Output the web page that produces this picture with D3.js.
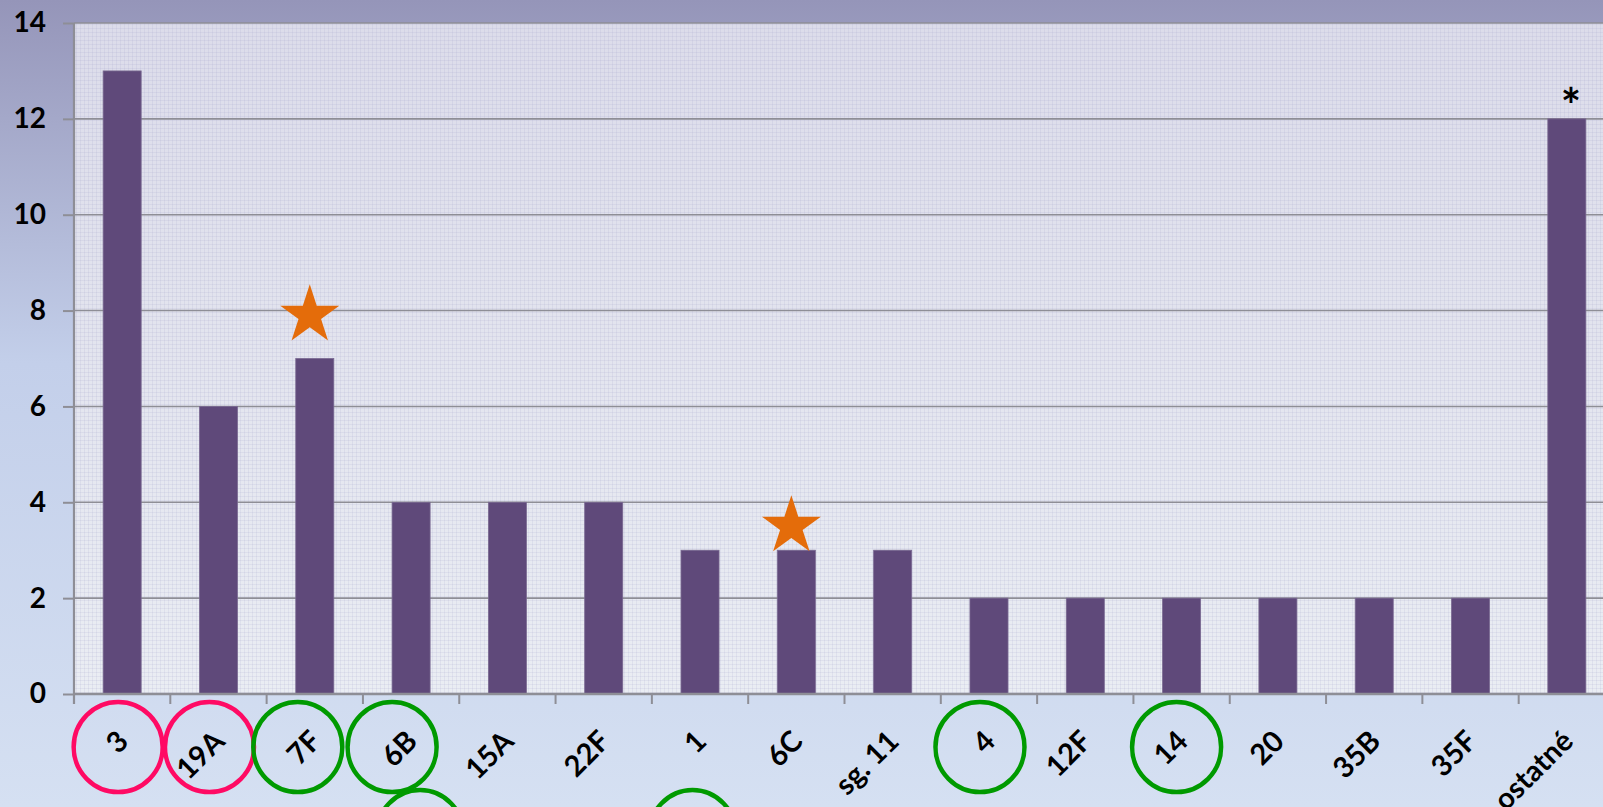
<!DOCTYPE html>
<html>
<head>
<meta charset="utf-8">
<script src="https://cdn.jsdelivr.net/npm/d3@7"></script>
<style>
  html, body { margin: 0; padding: 0; background: #C5D1EB; overflow: hidden; }
  svg { display: block; }
  text { font-family: Lato, "Open Sans", "DejaVu Sans", sans-serif; font-weight: bold; fill: #000; }
</style>
</head>
<body>
<svg id="chart" width="1603" height="807"></svg>
<script>
// ---- data ----
const categories = ["3", "19A", "7F", "6B", "15A", "22F", "1", "6C", "sg. 11", "4", "12F", "14", "20", "35B", "35F", "ostatné"];
const values = [13, 6, 7, 4, 4, 4, 3, 3, 3, 2, 2, 2, 2, 2, 2, 12];
const yTicks = [0, 2, 4, 6, 8, 10, 12, 14];
const starred = [{ cat: "7F", at: 7.9 }, { cat: "6C", at: 3.5 }];
const asterisked = [{ cat: "ostatné", at: 12.45 }];
const pinkCircled = ["3", "19A"];
const greenCircled = ["7F", "6B", "4", "14"];
const greenCircledBelow = ["6B", "1"];

// ---- layout ----
const W = 1603, H = 807;
const svg = d3.select("#chart");
const x = d3.scaleBand().domain(categories).range([74, 1615]).paddingInner(0.605).paddingOuter(0.3025);
const y = d3.scaleLinear().domain([0, 14]).range([694, 23]);
const cx = c => x(c) + x.bandwidth() / 2;

const defs = svg.append("defs");
const bg = defs.append("linearGradient").attr("id", "bg").attr("x1", 0).attr("y1", 0).attr("x2", 0).attr("y2", 1);
bg.append("stop").attr("offset", 0).attr("stop-color", "#9595B9");
bg.append("stop").attr("offset", 0.45).attr("stop-color", "#C3CFEA");
bg.append("stop").attr("offset", 1).attr("stop-color", "#D5E0F2");
const pg = defs.append("linearGradient").attr("id", "pg").attr("x1", 0).attr("y1", 0).attr("x2", 0).attr("y2", 1);
pg.append("stop").attr("offset", 0).attr("stop-color", "#DCDCEA");
pg.append("stop").attr("offset", 1).attr("stop-color", "#EAEDF3");
const pat = defs.append("pattern").attr("id", "dots").attr("width", 4).attr("height", 4).attr("patternUnits", "userSpaceOnUse");
pat.append("rect").attr("x", 0).attr("y", 0).attr("width", 4).attr("height", 1).attr("fill", "rgba(150,150,190,0.13)");
pat.append("rect").attr("x", 0).attr("y", 0).attr("width", 1).attr("height", 4).attr("fill", "rgba(150,150,190,0.13)");

svg.append("rect").attr("width", W).attr("height", H).attr("fill", "url(#bg)");

const [r0, r1] = x.range();
svg.append("rect").attr("x", r0).attr("y", y(14)).attr("width", W - r0).attr("height", y(0) - y(14)).attr("fill", "url(#pg)");
svg.append("rect").attr("x", r0).attr("y", y(14)).attr("width", W - r0).attr("height", y(0) - y(14)).attr("fill", "url(#dots)");

// gridlines
svg.append("g").selectAll("line").data(yTicks.filter(t => t > 0)).join("line")
  .attr("x1", r0).attr("x2", W).attr("y1", d => y(d)).attr("y2", d => y(d))
  .attr("stroke", "#8E8E96").attr("stroke-width", 1.6);

// bars
svg.append("g").selectAll("rect").data(categories).join("rect")
  .attr("x", d => x(d)).attr("width", x.bandwidth())
  .attr("y", (d, i) => y(values[i])).attr("height", (d, i) => y(0) - y(values[i]))
  .attr("fill", "#5F497A").attr("stroke", "#7A6A92").attr("stroke-width", 0.8);

// y axis
const yAxis = svg.append("g").attr("transform", `translate(${r0},0)`)
  .call(d3.axisLeft(y).tickValues(yTicks).tickSize(11).tickPadding(17).tickFormat(d3.format("d")));
yAxis.select(".domain").attr("stroke", "#8E8E96").attr("stroke-width", 2.2).attr("d", `M0,${y(14)}V${y(0) + 10}`);
yAxis.selectAll(".tick line").attr("stroke", "#8E8E96").attr("stroke-width", 2);
yAxis.selectAll(".tick text").attr("font-size", 28).attr("font-family", "Lato, 'Open Sans', sans-serif").attr("font-weight", "bold").attr("fill", "#000");

// x axis line and boundary ticks
svg.append("line").attr("x1", r0).attr("x2", W).attr("y1", y(0)).attr("y2", y(0)).attr("stroke", "#8E8E96").attr("stroke-width", 2.4);
svg.append("g").selectAll("line").data(d3.range(categories.length + 1)).join("line")
  .attr("x1", i => r0 + i * x.step()).attr("x2", i => r0 + i * x.step())
  .attr("y1", y(0)).attr("y2", y(0) + 10).attr("stroke", "#8E8E96").attr("stroke-width", 2);

// x labels
svg.append("g").selectAll("text").data(categories).join("text")
  .attr("transform", d => `translate(${cx(d) + 8},${y(0) + 49}) rotate(-45)`)
  .attr("text-anchor", "end").attr("font-size", 29).text(d => d);

// circles round labels
const circleDx = { "3": -4, "19A": -9, "7F": -17, "6B": -19, "4": -9, "14": -5 };
svg.append("g").selectAll("ellipse").data(pinkCircled).join("ellipse")
  .attr("cx", d => cx(d) + circleDx[d]).attr("cy", y(0) + 53).attr("rx", 44.5).attr("ry", 45)
  .attr("fill", "none").attr("stroke", "#FF0A64").attr("stroke-width", 4.5);
svg.append("g").selectAll("ellipse").data(greenCircled).join("ellipse")
  .attr("cx", d => cx(d) + circleDx[d]).attr("cy", y(0) + 53)
  .attr("rx", 44.5).attr("ry", 45)
  .attr("fill", "none").attr("stroke", "#009A00").attr("stroke-width", 4.5);
const belowDx = { "6B": 9, "1": -7.5 };
svg.append("g").selectAll("ellipse").data(greenCircledBelow).join("ellipse")
  .attr("cx", d => cx(d) + belowDx[d]).attr("cy", y(0) + 142).attr("rx", 44).attr("ry", 46)
  .attr("fill", "none").attr("stroke", "#009A00").attr("stroke-width", 4.5);

// stars
svg.append("g").selectAll("path").data(starred).join("path")
  .attr("transform", d => `translate(${cx(d.cat) - 5},${y(d.at)})`)
  .attr("d", d3.symbol().type(d3.symbolStar).size(1080)())
  .attr("fill", "#E46C0A");

// asterisk
svg.append("g").selectAll("text").data(asterisked).join("text")
  .attr("x", d => cx(d.cat) + 4).attr("y", d => y(d.at) + 26)
  .attr("text-anchor", "middle").attr("font-size", 48).text("*");
</script>
</body>
</html>
